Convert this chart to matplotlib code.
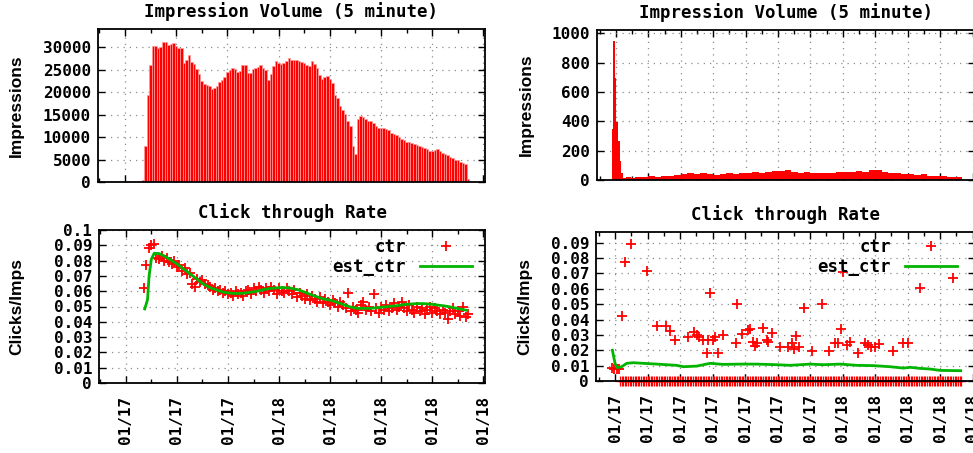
import numpy as np
import matplotlib
matplotlib.use("Agg")
import matplotlib.pyplot as plt
from matplotlib.ticker import MultipleLocator

MONO = 'DejaVu Sans Mono'
SANS = 'Liberation Sans'

# ---- left column: hours after 01/17 18:00, 6 minute bins ----
left_t0 = 0.70
left_dt = 0.1
left_imps = [500, 8000, 19500, 26000, 30200, 30300, 29800, 30000, 31300, 31200,
             30600, 30700, 31000, 30300, 29900, 29800, 26600, 27300, 28300, 26700,
             26200, 25100, 24000, 22500, 21800, 21600, 21500, 20800, 21000, 21500,
             22300, 22800, 23500, 24500, 25000, 25300, 25200, 24500, 24700, 26000,
             26100, 24300, 24200, 25200, 25400, 25600, 26000, 25500, 25000, 22800,
             24000, 25800, 27000, 26500, 26200, 26600, 27000, 27600, 27300, 27200,
             27100, 27000, 26800, 26500, 26100, 25900, 26900, 26300, 25300, 23800,
             22900, 23500, 23600, 23000, 22000, 19300, 18800, 16900, 16000, 15200,
             13500, 12400, 8000, 6300, 14000, 14700, 14400, 14100, 13600, 13500,
             13200, 12500, 12100, 12000, 12100, 11900, 11600, 11000, 10700, 10400,
             10000, 9600, 9300, 9000, 8900, 8700, 8500, 8200, 8000, 7800,
             7500, 7300, 7000, 6800, 7200, 7300, 6900, 6400, 6200, 6000,
             5600, 5300, 5000, 4800, 4500, 4200, 4000, 600]
left_ctr = [0.062, 0.077, 0.088, 0.090, 0.091, 0.082, 0.081, 0.083, 0.080, 0.082,
            0.079, 0.078, 0.080, 0.076, 0.077, 0.073, 0.075, 0.071, 0.072, 0.065,
            0.063, 0.068, 0.066, 0.067, 0.065, 0.064, 0.063, 0.061, 0.062, 0.060,
            0.061, 0.059, 0.060, 0.058, 0.059, 0.057, 0.060, 0.058, 0.059, 0.057,
            0.060, 0.061, 0.058, 0.062, 0.060, 0.063, 0.061, 0.059, 0.062, 0.060,
            0.063, 0.061, 0.058, 0.062, 0.060, 0.059, 0.062, 0.060, 0.058, 0.061,
            0.056, 0.059, 0.057, 0.055, 0.058, 0.054, 0.057, 0.055, 0.053, 0.056,
            0.052, 0.055, 0.053, 0.051, 0.054, 0.052, 0.050, 0.053, 0.051, 0.049,
            0.059, 0.047, 0.050, 0.048, 0.046, 0.051, 0.053, 0.048, 0.050, 0.047,
            0.058, 0.049, 0.046, 0.050, 0.048, 0.051, 0.047, 0.049, 0.052, 0.048,
            0.050, 0.053, 0.049, 0.047, 0.051, 0.048, 0.046, 0.050, 0.047, 0.049,
            0.045, 0.048, 0.050, 0.046, 0.049, 0.047, 0.045, 0.048, 0.046, 0.042,
            0.047, 0.049, 0.045, 0.047, 0.044, 0.050, 0.043, 0.045]
left_est_t = [0.74, 0.85, 0.91, 1.00, 1.11, 1.30, 1.50, 1.76, 2.02, 2.28,
              2.54, 2.80, 3.06, 3.32, 3.58, 3.84, 4.10, 4.36, 4.62, 4.88,
              5.14, 5.40, 5.66, 5.92, 6.18, 6.45, 6.71, 6.97, 7.23, 7.49,
              7.75, 8.01, 8.27, 8.53, 8.79, 9.05, 9.31, 9.57, 9.83, 10.09,
              10.35, 10.61, 10.87, 11.13, 11.39, 11.65, 11.91, 12.17, 12.43, 12.70,
              12.96, 13.22, 13.35]
left_est = [0.0484, 0.0545, 0.0700, 0.0810, 0.0848, 0.0846, 0.0831, 0.0804, 0.0776, 0.0743,
            0.0710, 0.0677, 0.0644, 0.0622, 0.0607, 0.0593, 0.0587, 0.0585, 0.0587, 0.0593,
            0.0600, 0.0611, 0.0618, 0.0622, 0.0624, 0.0620, 0.0611, 0.0596, 0.0578, 0.0563,
            0.0549, 0.0541, 0.0527, 0.0512, 0.0497, 0.0488, 0.0488, 0.0488, 0.0492, 0.0497,
            0.0501, 0.0505, 0.0512, 0.0516, 0.0519, 0.0519, 0.0516, 0.0510, 0.0505, 0.0497,
            0.0488, 0.0479, 0.0475]
left_ticks = ['01/17'] * 3 + ['01/18'] * 5

# ---- right column: hours after 01/17 10:00 ----
right_imps_t = [-0.27, -0.17, -0.07, 0.03, 0.13, 0.23, 0.33, 0.43, 0.6, 0.9,
                1.2, 1.6, 2.0, 2.4, 2.8, 3.2, 3.6, 4.0, 4.4, 4.8,
                5.2, 5.6, 6.0, 6.4, 6.8, 7.2, 7.6, 8.0, 8.4, 8.8,
                9.2, 9.6, 10.0, 10.4, 10.8, 11.2, 11.6, 12.0, 12.4, 12.8,
                13.2, 13.6, 14.0, 14.4, 14.8, 15.2, 15.6, 16.0, 16.4, 16.8,
                17.2, 17.6, 18.0, 18.4, 18.8, 19.2, 19.6, 20.0, 20.4, 20.8,
                21.2]
right_imps = [346, 946, 693, 393, 266, 127, 46, 16, 20, 17,
              22, 18, 25, 22, 28, 25, 32, 42, 45, 40,
              48, 38, 35, 42, 48, 44, 50, 46, 52, 48,
              55, 62, 58, 66, 55, 50, 52, 47, 50, 45,
              48, 53, 55, 57, 60, 56, 65, 68, 52, 45,
              48, 40, 42, 35, 38, 30, 25, 24, 22, 20,
              18]
right_end = 21.32
right_ctr_t = [-0.21, -0.06, 0.10, 0.27, 0.41, 0.62, 0.96, 1.95, 2.56, 3.12,
               3.38, 3.69, 4.47, 4.86, 5.03, 5.19, 5.44, 5.64, 5.74, 5.85,
               6.01, 6.15, 6.36, 6.63, 7.45, 7.53, 7.79, 8.21, 8.31, 8.51,
               8.62, 8.72, 9.09, 9.33, 9.44, 9.64, 10.15, 10.67, 10.87, 11.02,
               11.14, 11.34, 11.63, 12.10, 12.72, 13.19, 13.54, 13.74, 13.89, 14.05,
               14.30, 14.46, 14.97, 15.38, 15.59, 15.73, 16.00, 16.27, 17.13, 17.74,
               18.05, 18.77, 20.78]
right_ctr = [0.0085, 0.0080, 0.0075, 0.0078, 0.0424, 0.0775, 0.0894, 0.0716, 0.0360, 0.0360,
             0.0327, 0.0266, 0.0288, 0.0320, 0.0300, 0.0288, 0.0266, 0.0184, 0.0266, 0.0574,
             0.0270, 0.0284, 0.0184, 0.0300, 0.0245, 0.0504, 0.0305, 0.0335, 0.0340, 0.0255,
             0.0227, 0.0250, 0.0348, 0.0270, 0.0255, 0.0314, 0.0223, 0.0223, 0.0245, 0.0206,
             0.0292, 0.0223, 0.0472, 0.0197, 0.0504, 0.0197, 0.0250, 0.0245, 0.0340, 0.0710,
             0.0234, 0.0255, 0.0184, 0.0245, 0.0234, 0.0223, 0.0223, 0.0238, 0.0197, 0.0250,
             0.0250, 0.0608, 0.0671]
# bins with no clicks (ctr = 0) run from 0.3h to 21.3h, 6 minute bins
right_zero_t0, right_zero_t1, right_dt = 0.3, 21.3, 0.1
right_est_t = [-0.16, 0.0, 0.14, 0.41, 0.72, 1.13, 1.74, 2.56, 3.18, 3.79,
               4.21, 5.03, 5.85, 6.67, 7.69, 8.72, 9.95, 10.77, 12.0, 12.82,
               13.85, 14.87, 15.90, 16.92, 17.74, 18.15, 18.77, 19.38, 20.0, 21.27]
right_est = [0.0200, 0.0115, 0.0087, 0.0093, 0.0115, 0.0119, 0.0115, 0.0110, 0.0106, 0.0102,
             0.0093, 0.0097, 0.0115, 0.0108, 0.0110, 0.0110, 0.0106, 0.0102, 0.0110, 0.0106,
             0.0110, 0.0102, 0.0100, 0.0093, 0.0084, 0.0089, 0.0082, 0.0078, 0.0069, 0.0067]
right_ticks = ['01/17'] * 7 + ['01/18'] * 5

RED = '#ff0000'
GREEN = '#00b400'

fig = plt.figure(figsize=(9.73, 4.53), dpi=100)
W, H = 973.0, 453.0


def add_axes(l, r, t, b):
    return fig.add_axes([l / W, 1 - b / H, (r - l) / W, (b - t) / H])


def style(ax, xlim, ylim, yticks, ylabels, xlabels, show_x, ylabel, ylab_x, title):
    ax.set_xlim(xlim)
    ax.set_ylim(ylim)
    ax.set_xticks(np.arange(len(xlabels)) * 2.0)
    ax.xaxis.set_minor_locator(MultipleLocator(1))
    if show_x:
        ax.set_xticklabels(xlabels, rotation=90, fontfamily=MONO,
                           fontweight='bold', fontsize=11.5)
    else:
        ax.set_xticklabels([])
    ax.set_yticks(yticks)
    ax.set_yticklabels(ylabels, fontfamily=MONO, fontweight='bold', fontsize=11.5)
    ax.tick_params(which='both', direction='in', top=True, right=True, width=1)
    ax.tick_params(which='major', length=5)
    ax.tick_params(which='minor', length=3)
    ax.tick_params(axis='x', pad=9)
    ax.tick_params(axis='y', pad=5)
    ax.grid(True, which='major', ls=(0, (1, 4)), color='#8c8c8c', lw=0.9)
    ax.set_axisbelow(True)
    for s in ax.spines.values():
        s.set_linewidth(1.3)
    ax.set_ylabel(ylabel, fontfamily=SANS, fontweight='bold', fontsize=12.5)
    ax.yaxis.set_label_coords(ylab_x, 0.5)
    ax.set_title(title, fontfamily=MONO, fontweight='bold', fontsize=12.5, pad=9)


def legend(ax, anchor):
    ax.legend(loc='upper right', bbox_to_anchor=anchor, frameon=False,
              markerfirst=False, handlelength=3.0, handletextpad=0.8,
              borderaxespad=0, borderpad=0, labelspacing=0.1,
              prop={'family': MONO, 'weight': 'bold', 'size': 12.5})


# top left: impressions
ax = add_axes(98, 485, 29, 182)
t_left = left_t0 + left_dt * np.arange(len(left_imps))
ax.bar(t_left, left_imps, width=left_dt, color=RED, edgecolor='#ff9a9a', linewidth=0.5)
style(ax, (-1.05, 14.06), (0, 34100), np.arange(0, 30001, 5000),
      [str(v) for v in range(0, 30001, 5000)], left_ticks, False,
      'Impressions', -0.1925, 'Impression Volume (5 minute)')

# top right: impressions
ax = add_axes(597, 975, 30, 180)
tx = np.append(right_imps_t, right_end)
vy = np.append(right_imps, right_imps[-1])
ax.fill_between(tx, vy, step='post', color=RED, lw=0)
style(ax, (-1.17, 22.15), (0, 1022), np.arange(0, 1001, 200),
      [str(v) for v in range(0, 1001, 200)], right_ticks, False,
      'Impressions', -0.1667, 'Impression Volume (5 minute)')

# bottom left: ctr
ax = add_axes(99, 485, 230, 383)
ax.plot(t_left, left_ctr, '+', color=RED, ms=7, mew=1.3, label='ctr', clip_on=False)
ax.plot(left_est_t, left_est, '-', color=GREEN, lw=2.0, label='est_ctr')
yt = np.arange(11) * 0.01
style(ax, (-1.05, 14.06), (0, 0.1), yt,
      ['0'] + ['0.%02d' % i for i in range(1, 10)] + ['0.1'], left_ticks, True,
      'Clicks/Imps', -0.193, 'Click through Rate')
legend(ax, (0.966, 0.948))

# bottom right: ctr
ax = add_axes(596, 975, 232, 381)
zero_t = np.arange(right_zero_t0, right_zero_t1 + 1e-9, right_dt)
ax.plot(right_ctr_t, right_ctr, '+', color=RED, ms=7, mew=1.3, label='ctr', clip_on=False)
ax.plot(zero_t, np.zeros_like(zero_t), '+', color=RED, ms=7, mew=0.9, clip_on=False)
ax.plot(right_est_t, right_est, '-', color=GREEN, lw=2.0, label='est_ctr')
yt = np.arange(10) * 0.01
style(ax, (-1.17, 22.15), (0, 0.097), yt,
      ['0'] + ['0.%02d' % i for i in range(1, 10)], right_ticks, True,
      'Clicks/Imps', -0.1675, 'Click through Rate')
legend(ax, (0.953, 0.96))

fig.savefig('out.png', dpi=100)
